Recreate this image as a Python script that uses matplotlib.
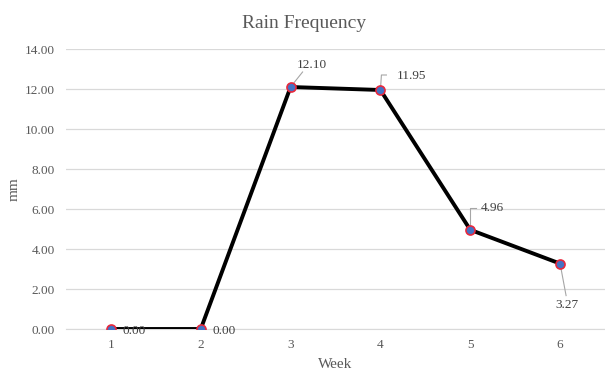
import matplotlib.pyplot as plt
from matplotlib.transforms import ScaledTranslation

weeks = [1, 2, 3, 4, 5, 6]
rain_mm = [0.00, 0.00, 12.10, 11.95, 4.96, 3.27]
y_ticks = [0, 2, 4, 6, 8, 10, 12, 14]

# data label placement, pixel offsets from each point
label_offsets = [(12, -2), (12, -2), (6, 22), (16, 14), (11, 22), (7, -41)]
label_ha = ['left', 'left', 'left', 'left', 'left', 'center']
leaders = [None, None,
           [(0, 0), (12, 15)],
           [(0, 0), (1, 15), (6, 15)],
           [(0, 0), (0, 22), (6, 22)],
           [(0, 0), (6, -32)]]

plt.rcParams['font.family'] = ['Liberation Serif', 'DejaVu Serif']

fig = plt.figure(figsize=(6.05, 3.72), dpi=100)
ax = fig.add_axes([66 / 605, 43 / 372, 539 / 605, 280 / 372])

ax.plot(weeks, rain_mm, color='black', lw=2.8, zorder=3,
        marker='o', ms=6.5, mfc='#4472C4', mec='#E8283C', mew=1.2)

for x, y, (dx, dy), ha, lead in zip(weeks, rain_mm, label_offsets, label_ha, leaders):
    ax.annotate(f"{y:.2f}", (x, y), xytext=(dx, dy), textcoords='offset pixels',
                ha=ha, va='center', fontsize=9.5, color='#404040', zorder=4)
    if lead:
        tr = fig.dpi_scale_trans + ScaledTranslation(x, y, ax.transData)
        ax.plot([p[0] / 100 for p in lead], [p[1] / 100 for p in lead],
                transform=tr, color='#A6A6A6', lw=0.8, zorder=2, clip_on=False)

ax.set_xlim(0.5, 6.5)
ax.set_ylim(0, 14)
ax.set_xticks(weeks)
ax.set_yticks(y_ticks)
ax.set_yticklabels([f"{t:.2f}" for t in y_ticks])
ax.grid(axis='y', color='#D9D9D9', lw=0.9)
ax.set_axisbelow(True)
for s in ax.spines.values():
    s.set_visible(False)
ax.spines['bottom'].set_visible(True)
ax.spines['bottom'].set_color('#D9D9D9')
ax.tick_params(length=0, labelsize=9.5, colors='#595959')
ax.tick_params(axis='x', pad=7)
ax.tick_params(axis='y', pad=8)

ax.set_xlabel('Week', fontsize=11, color='#595959', va='center')
ax.xaxis.set_label_coords(0.5, -35 / 280)
ax.set_ylabel('mm', fontsize=11, color='#595959', va='center')
ax.yaxis.set_label_coords(-52 / 539, 0.5)
fig.text(304 / 605, 1 - 23 / 372, 'Rain Frequency', ha='center', va='center',
         fontsize=14, color='#595959')

fig.savefig('out.png', dpi=100)
